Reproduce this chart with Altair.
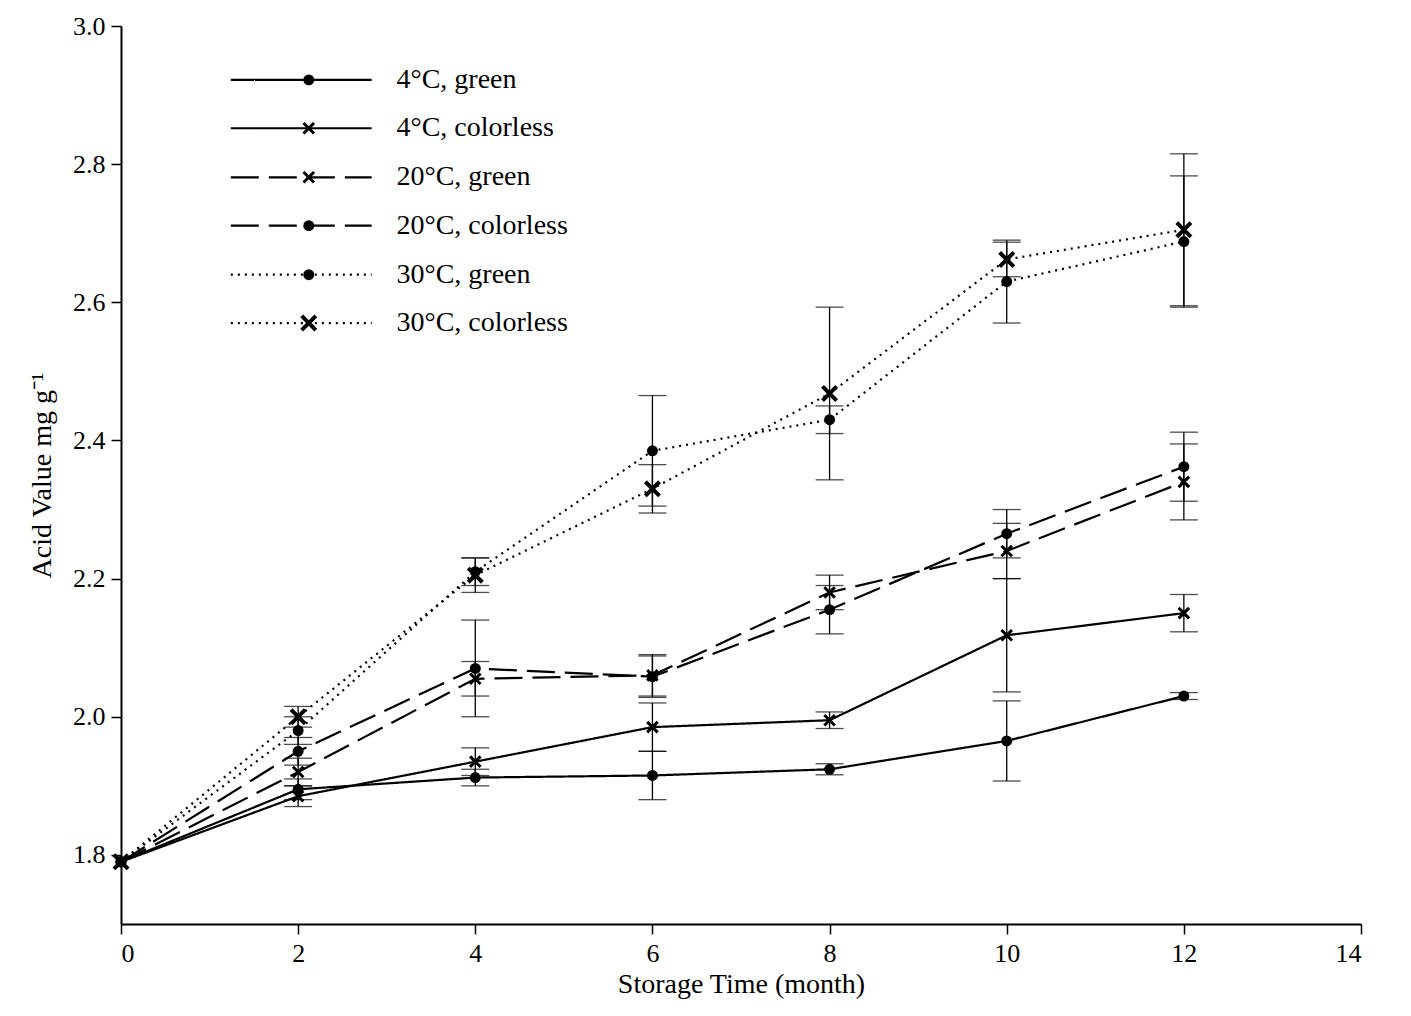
import altair as alt
import pandas as pd

months = [0, 2, 4, 6, 8, 10, 12]
series = ["4°C, green", "4°C, colorless", "20°C, green",
          "20°C, colorless", "30°C, green", "30°C, colorless"]
means = {
    "4°C, green":      [1.79, 1.895, 1.912, 1.915, 1.924, 1.965, 2.03],
    "4°C, colorless":  [1.79, 1.885, 1.935, 1.985, 1.995, 2.118, 2.15],
    "20°C, green":     [1.79, 1.92, 2.055, 2.06, 2.18, 2.24, 2.34],
    "20°C, colorless": [1.79, 1.95, 2.07, 2.058, 2.155, 2.265, 2.362],
    "30°C, green":     [1.79, 1.98, 2.21, 2.385, 2.43, 2.63, 2.688],
    "30°C, colorless": [1.79, 2.0, 2.205, 2.33, 2.468, 2.662, 2.705],
}
errors = {
    "4°C, green":      [0, 0.015, 0.012, 0.035, 0.008, 0.058, 0.005],
    "4°C, colorless":  [0, 0.015, 0.02, 0.035, 0.012, 0.082, 0.027],
    "20°C, green":     [0, 0.02, 0.025, 0.03, 0.025, 0.04, 0.055],
    "20°C, colorless": [0, 0.02, 0.07, 0.03, 0.035, 0.035, 0.05],
    "30°C, green":     [0, 0.02, 0.02, 0.08, 0.02, 0.06, 0.095],
    "30°C, colorless": [0, 0.015, 0.025, 0.035, 0.125, 0.025, 0.11],
}
dashes = {"solid": [1, 0], "dashed": [28, 10], "dotted": [2, 5]}
styles = {
    "4°C, green": ("solid", "circle", 120),
    "4°C, colorless": ("solid", "x", 110),
    "20°C, green": ("dashed", "x", 110),
    "20°C, colorless": ("dashed", "circle", 120),
    "30°C, green": ("dotted", "circle", 120),
    "30°C, colorless": ("dotted", "x", 200),
}
legend_y = [2.922, 2.852, 2.781, 2.711, 2.640, 2.570]
legend_x = [1.24, 2.83]
legend_marker_x = 2.12
legend_text_x = 3.11

FONT = "Liberation Serif"
X_PATH = "M-1,-1L1,1M-1,1L1,-1"
xs = alt.Scale(domain=[0, 14], nice=False)
ys = alt.Scale(domain=[1.7, 3.0], nice=False, zero=False)
x_axis = alt.Axis(values=[0, 2, 4, 6, 8, 10, 12, 14], format="d")
y_axis = alt.Axis(values=[1.8, 2.0, 2.2, 2.4, 2.6, 2.8, 3.0], format=".1f")


def point_style(shape, size):
    if shape == "circle":
        return dict(shape="circle", filled=True, size=size, color="black", opacity=1)
    sw = 4 if size > 150 else 3
    return dict(shape=X_PATH, filled=False, size=size, color="black", strokeWidth=sw, opacity=1)


layers = []
for i, s in enumerate(series):
    dash, shape, size = styles[s]
    df = pd.DataFrame({"month": months, "v": means[s], "e": errors[s]})
    df["lo"] = df["v"] - df["e"]
    df["hi"] = df["v"] + df["e"]
    x = alt.X("month:Q", scale=xs, axis=x_axis, title="Storage Time (month)")
    y = alt.Y("v:Q", scale=ys, axis=y_axis, title="Acid Value mg g⁻¹")
    layers.append(alt.Chart(df).mark_line(color="black", strokeWidth=2.2, strokeDash=dashes[dash]).encode(x=x, y=y))
    errs = df[df["e"] > 0]
    layers.append(alt.Chart(errs).mark_rule(color="black", strokeWidth=1.3).encode(
        x=x, y=alt.Y("lo:Q", scale=ys), y2="hi:Q"))
    for col in ["lo", "hi"]:
        layers.append(alt.Chart(errs).mark_tick(color="black", orient="horizontal", size=28, thickness=1.3).encode(
            x=x, y=alt.Y(f"{col}:Q", scale=ys)))
    pm = point_style(shape, size)
    layers.append(alt.Chart(df).mark_point(**pm).encode(x=x, y=y))

    lg = pd.DataFrame({"x": legend_x, "y": [legend_y[i]] * 2})
    layers.append(alt.Chart(lg).mark_line(color="black", strokeWidth=2.2, strokeDash=dashes[dash]).encode(
        x=alt.X("x:Q", scale=xs), y=alt.Y("y:Q", scale=ys)))
    lm = pd.DataFrame({"x": [legend_marker_x], "y": [legend_y[i]]})
    layers.append(alt.Chart(lm).mark_point(**pm).encode(x=alt.X("x:Q", scale=xs), y=alt.Y("y:Q", scale=ys)))
    lt = pd.DataFrame({"x": [legend_text_x], "y": [legend_y[i]], "t": [s]})
    layers.append(alt.Chart(lt).mark_text(align="left", baseline="middle", font=FONT, fontSize=28, color="black").encode(
        x=alt.X("x:Q", scale=xs), y=alt.Y("y:Q", scale=ys), text="t:N"))

chart = alt.layer(*layers).properties(
    width=1240, height=898, padding={"left": 20, "top": 5, "right": 10, "bottom": 5}
).configure_axis(
    grid=False, domainColor="black", tickColor="black", labelColor="black", titleColor="black",
    labelFont=FONT, titleFont=FONT, labelFontSize=26, titleFontSize=28, tickSize=10,
    domainWidth=2, tickWidth=1.5, titleFontWeight="normal", labelPadding=6,
).configure_axisY(titlePadding=16).configure_view(stroke=None)

chart.save("out.html", embed_options={"renderer": "svg", "actions": False})
